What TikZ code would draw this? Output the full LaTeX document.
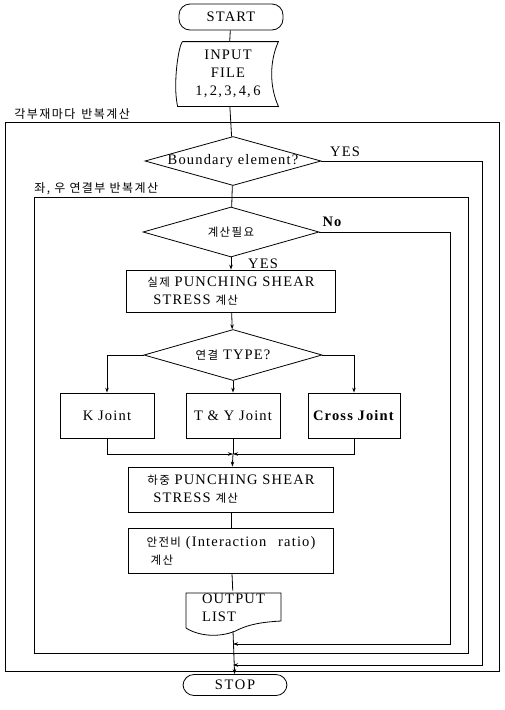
\documentclass[tikz,border=0pt]{standalone}
\usepackage{fontspec}
\setmainfont{Liberation Serif}[LetterSpace=8]
\newfontfamily\krfont{Noto Sans CJK KR}[LetterSpace=12]
\newcommand{\kor}[1]{{\krfont\fontsize{11.5}{13}\selectfont #1}}
\usetikzlibrary{shapes.geometric,arrows.meta}
\begin{document}
\begin{tikzpicture}[x=1pt,y=-1pt,
  line width=0.8pt,
  every node/.style={font=\fontsize{14.5}{18}\selectfont},
  arr/.style={-{Stealth[length=5pt,width=3.5pt]}},
  term/.style={draw,rounded corners=11pt,minimum width=104pt,minimum height=26pt,inner sep=0pt},
  procbox/.style={draw,rectangle,minimum width=#1,minimum height=44pt,align=left,inner sep=2pt},
  decision/.style={draw,diamond,aspect=3.6,inner sep=0pt,minimum width=176pt,minimum height=49pt},
  plain/.style={inner sep=0pt},
  looplabel/.style={anchor=west,inner sep=0pt,font=\krfont\fontsize{12}{14}\selectfont}
]
\useasboundingbox (0,0) rectangle (504,710);

% loop frames
\draw (5,122) rectangle (499,671);
\draw (34,197) rectangle (468,653);
\node[looplabel] (lab1) at (14,114) {각부재마다 \,반복계산};
\node[looplabel] (lab2) at (34,189) {좌, 우 연결부 반복계산};

% nodes
\node[term] (start) at (231,17) {START};
\node[plain,minimum width=100pt,minimum height=64pt,align=center] (input) at (228,74) {INPUT\\FILE\\1,\,2,\,3,\,4,\,6};
\draw ([xshift=5pt]input.north west) -- (input.north east)
  .. controls +(-9,20) and +(-9,-20) .. (input.south east)
  -- (input.south west)
  .. controls +(-5,-22) and +(-4,3) .. ([xshift=5pt]input.north west);

\node[decision,inner xsep=-12pt] (bnd) at (233,161) {Boundary element?};
\node[decision,minimum width=176pt,minimum height=50pt] (need) at (231,232) {\kor{계산필요}};
\node[procbox=209pt,minimum height=42pt] (b1) at (231,291) {\kor{실제} PUNCHING SHEAR\\\hspace*{6pt}STRESS \kor{계산}};
\node[decision,minimum width=178pt,minimum height=51pt] (type) at (233,355) {\kor{연결} TYPE?};
\node[procbox=94pt,minimum height=45pt] (kj) at (107,415.5) {K Joint};
\node[procbox=94pt,minimum height=45pt] (ty) at (233,415.5) {T \& Y Joint};
\node[procbox=92pt,minimum height=45pt] (cj) at (354,415.5) {\textbf{Cross Joint}};
\node[procbox=205pt,minimum height=45pt] (b2) at (231,489.5) {\kor{하중} PUNCHING SHEAR\\\hspace*{6pt}STRESS \kor{계산}};
\node[procbox=205pt,minimum height=45pt] (b3) at (231,550.5) {\kor{안전비} (Interaction\hspace{12pt}ratio)\\\hspace*{4pt}\kor{계산}};
\node[plain,minimum width=96pt,minimum height=34pt,align=left] (out) at (233.5,608) {OUTPUT\\LIST};
\draw[shift={(out.center)}] (-47.5,20) -- (-47.5,-15) -- (47.5,-15) -- (47.5,13)
  .. controls (30,14) and (15,16) .. (2,23)
  .. controls (-15,30) and (-35,28) .. (-47.5,20);
\node[term,minimum height=21pt] (stop) at (235,685) {\addfontfeatures{LetterSpace=12}STOP};

% labels
\node[plain] (yes1) at (345,152) {YES};
\node[plain,font=\bfseries\fontsize{14.5}{18}\selectfont] (no1) at (332,222) {No};
\node[plain] (yes2) at (263,264) {YES};

% helper coordinates
\coordinate (m) at (233,454);
\coordinate (j1) at (233,644);
\coordinate (j2) at (233,665);
\coordinate (noR) at (450,644);
\coordinate (yesR) at (482,665);
\coordinate (outb) at (233,631);

% connectors
\draw (start) -- (input);
\draw (input) -- (bnd);
\draw (bnd) -- (need);
\draw[arr] (need) -- (b1);
\draw[arr] (b1) -- (type);
\draw[arr] (type.west) -| (kj);
\draw[arr] (type) -- (ty);
\draw[arr] (type.east) -| (cj);
\draw[arr] (kj) |- (m);
\draw[arr] (cj) |- (m);
\draw (ty) -- (m);
\draw[arr] (m) -- (b2);
\draw (b2) -- (b3);
\draw (b3) -- (out);
\draw[arr] (outb) -- (stop);
\draw[arr] (need.east) -| (noR) -- (j1);
\draw[arr] (bnd.east) -| (yesR) -- (j2);
\end{tikzpicture}
\end{document}
